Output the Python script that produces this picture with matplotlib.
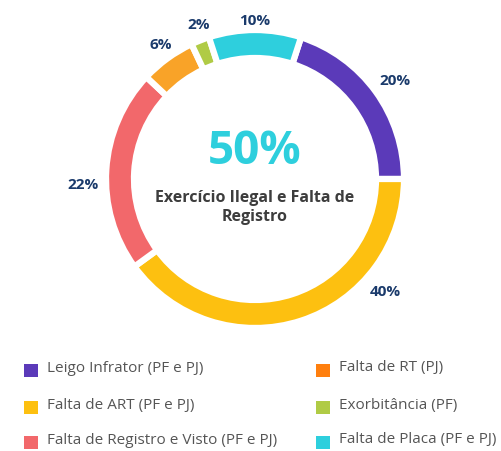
import numpy as np
import matplotlib
matplotlib.use("Agg")
from matplotlib import pyplot as plt
from matplotlib.patches import Rectangle

plt.rcParams['font.family'] = ['Open Sans', 'DejaVu Sans']

# data
categories = ['Leigo Infrator (PF e PJ)', 'Falta de ART (PF e PJ)',
              'Falta de Registro e Visto (PF e PJ)', 'Falta de RT (PJ)',
              'Exorbitância (PF)', 'Falta de Placa (PF e PJ)']
values = [20, 40, 22, 6, 2, 10]
pie_colors = ['#5B3AB9', '#FDC010', '#F2686B', '#F9A328', '#B0CB45', '#2ECFDD']
legend_colors = ['#5B3AB9', '#FDC010', '#F2686B', '#FF7F0E', '#B0CB45', '#2ECFDD']
center_value = '50%'
center_text = 'Exercício Ilegal e Falta de\nRegistro'

# label angles (degrees clockwise from top), tweaked to match layout
label_angles = [55, 131, 268, 325, 340, 0]
label_radius = [171, 173, 172, 164, 164, 158]

W, H = 502, 451
fig = plt.figure(figsize=(W / 100, H / 100), dpi=100)
ax = fig.add_axes([0, 0, 1, 1])

cx, cy = 255, H - 179
R = 149
ax.pie(values, colors=pie_colors, startangle=72, counterclock=False,
       center=(cx, cy), radius=R, frame=True,
       wedgeprops=dict(width=28, edgecolor='white', linewidth=4.5))
ax.set_xlim(0, W)
ax.set_ylim(0, H)
ax.set_aspect('equal')
ax.axis('off')

for v, a, r in zip(values, label_angles, label_radius):
    t = np.deg2rad(a)
    ax.text(cx + r * np.sin(t), cy + r * np.cos(t), f'{v}%',
            ha='center', va='center', fontsize=11, fontweight='bold',
            color='#1A3A6B')

ax.text(cx, H - 152, center_value, ha='center', va='center', fontsize=33,
        fontweight='bold', color='#2ECFDD')
ax.text(cx, H - 208, center_text, ha='center', va='center', fontsize=11.5,
        fontweight='bold', color='#3D3D3D', linespacing=1.25)

# legend
rows_y = [370, 407, 442]
col_x = [24, 316]
for i, (lab, col) in enumerate(zip(categories, legend_colors)):
    x = col_x[i // 3]
    y = H - rows_y[i % 3]
    ax.add_patch(Rectangle((x, y - 7), 14, 13, color=col, lw=0))
    ax.text(x + 23, y + 2, lab, ha='left', va='center', fontsize=11,
            color='#555555')

fig.savefig('out.png', dpi=100)
